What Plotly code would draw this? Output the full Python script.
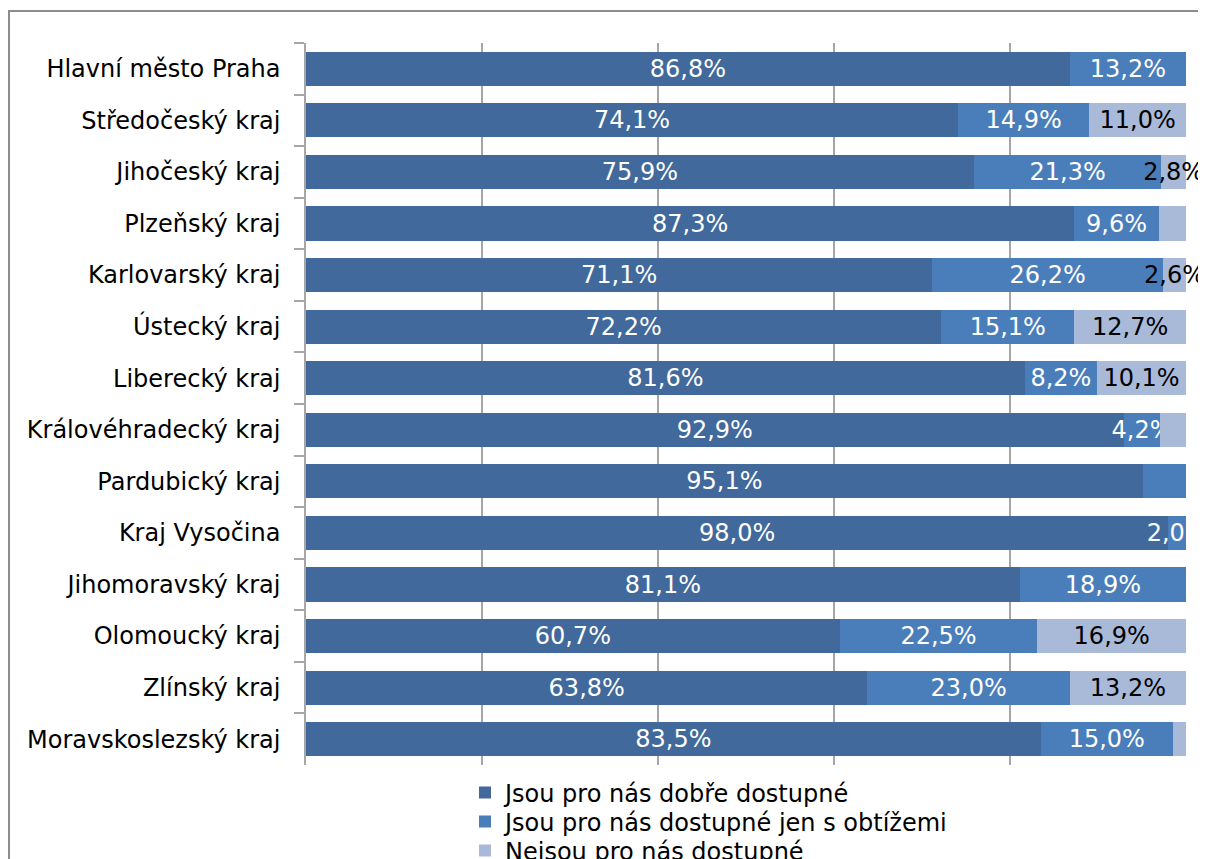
import plotly.graph_objects as go

regions = [
    "Hlavní město Praha", "Středočeský kraj", "Jihočeský kraj", "Plzeňský kraj",
    "Karlovarský kraj", "Ústecký kraj", "Liberecký kraj", "Královéhradecký kraj",
    "Pardubický kraj", "Kraj Vysočina", "Jihomoravský kraj", "Olomoucký kraj",
    "Zlínský kraj", "Moravskoslezský kraj",
]
good = [86.8, 74.1, 75.9, 87.3, 71.1, 72.2, 81.6, 92.9, 95.1, 98.0, 81.1, 60.7, 63.8, 83.5]
difficult = [13.2, 14.9, 21.3, 9.6, 26.2, 15.1, 8.2, 4.2, 4.9, 2.0, 18.9, 22.5, 23.0, 15.0]
unavailable = [0.0, 11.0, 2.8, 3.1, 2.6, 12.7, 10.1, 2.9, 0.0, 0.0, 0.0, 16.9, 13.2, 1.5]

# whether the data label is shown in the reference
show_good = [True] * 14
show_difficult = [True, True, True, True, True, True, True, True, False, True, True, True, True, True]
show_unavailable = [False, True, True, False, True, True, True, False, False, False, False, True, True, False]

series_names = [
    "Jsou pro nás dobře dostupné",
    "Jsou pro nás dostupné jen s obtížemi",
    "Nejsou pro nás dostupné",
]
colors = ["#41699B", "#4A7EBB", "#A9B9D8"]
text_colors = ["white", "white", "black"]
clip_text = [True, True, False]

FONT = "DejaVu Sans"


def fmt(v, show):
    return (f"{v:.1f}".replace(".", ",") + "%") if show else ""


# page offset of the figure (default body margin)
OFF = 8
W, H = 1206 - OFF, 859 - OFF
# plot area in page pixels: x 306..1186, y 43..765
L, R = 306 - OFF, 1206 - 1186
T, B = 43 - OFF, 859 - 765
pw, ph = W - L - R, H - T - B


def px_x(xpage):
    return (xpage - OFF - L) / pw


def px_y(ypage):
    return (H - B - (ypage - OFF)) / ph


fig = go.Figure()
data = [(good, show_good), (difficult, show_difficult), (unavailable, show_unavailable)]
legend_ids = ["legend", "legend2", "legend3"]
for i, (vals, shows) in enumerate(data):
    fig.add_trace(go.Bar(
        y=regions, x=vals, orientation="h", name=series_names[i],
        marker=dict(color=colors[i], line=dict(width=0)),
        text=[fmt(v, s) for v, s in zip(vals, shows)],
        texttemplate="%{text}",
        textposition="inside", insidetextanchor="middle", textangle=0,
        insidetextfont=dict(family=FONT, size=24, color=text_colors[i]),
        cliponaxis=clip_text[i],
        legend=legend_ids[i],
        hoverinfo="skip",
    ))

legend_common = dict(
    font=dict(family=FONT, size=24, color="black"),
    bgcolor="rgba(0,0,0,0)", borderwidth=0,
    xanchor="left", yanchor="middle", orientation="v",
    x=px_x(465),
)

fig.update_layout(
    width=W, height=H,
    margin=dict(l=L, r=R, t=T, b=B, autoexpand=False),
    paper_bgcolor="white", plot_bgcolor="white",
    barmode="stack", barnorm="percent", bargap=0.34,
    font=dict(family=FONT, size=24, color="black"),
    uniformtext=dict(minsize=24, mode="show"),
    showlegend=True,
    legend=dict(**legend_common, y=px_y(793)),
    legend2=dict(**legend_common, y=px_y(822)),
    legend3=dict(**legend_common, y=px_y(851)),
    xaxis=dict(
        range=[0, 100.0001], dtick=20, tick0=0,
        showgrid=True, gridcolor="#A6A6A6", gridwidth=1.5,
        showticklabels=False, zeroline=False, showline=False, ticks="",
        fixedrange=True,
    ),
    yaxis=dict(
        type="category", autorange="reversed",
        tickson="boundaries", ticks="outside", ticklen=10,
        tickcolor="#A6A6A6", tickwidth=1.5,
        showline=True, linecolor="#A6A6A6", linewidth=1.5,
        showgrid=False, zeroline=False,
        tickfont=dict(family=FONT, size=24, color="black"),
        ticklabelstandoff=19,
        fixedrange=True,
    ),
    shapes=[dict(
        type="rect", xref="paper", yref="paper",
        x0=px_x(9), x1=px_x(1240), y0=px_y(11), y1=px_y(920),
        line=dict(color="#8C8C8C", width=2), fillcolor="rgba(0,0,0,0)",
        layer="below",
    )],
)

fig.write_html("out.html")
